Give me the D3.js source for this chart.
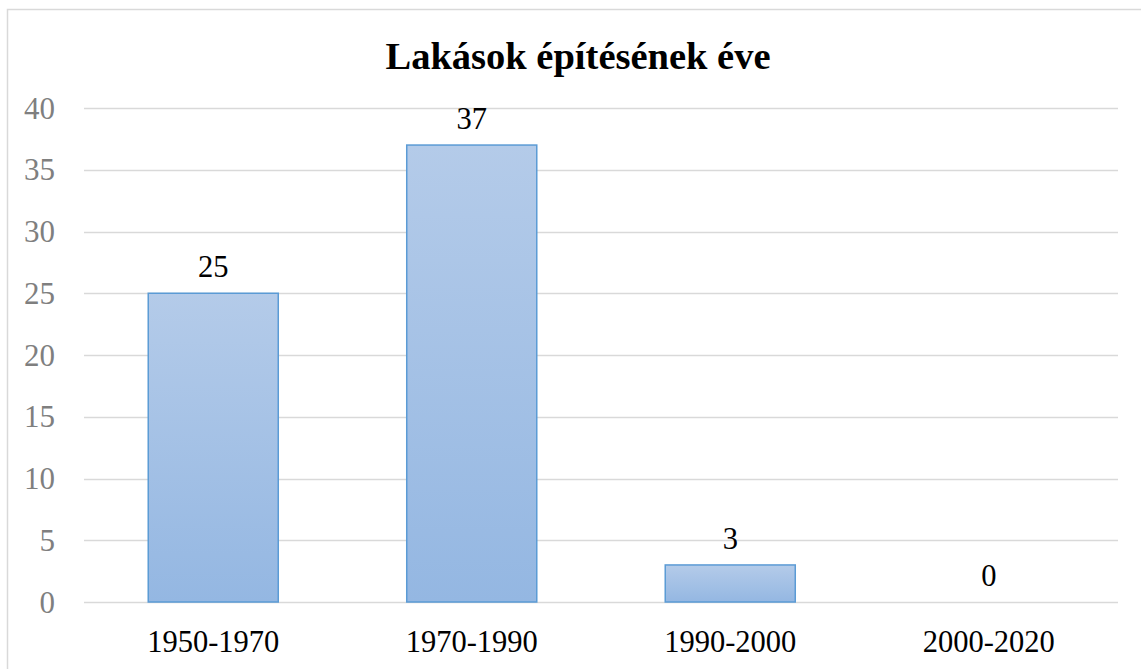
<!DOCTYPE html>
<html>
<head>
<meta charset="utf-8">
<script src="https://cdn.jsdelivr.net/npm/d3@7"></script>
<style>
  body { margin: 0; background: #fff; }
  svg { display: block; font-family: "Liberation Serif", "Times New Roman", serif; }
</style>
</head>
<body>
<svg></svg>
<script>
const width = 1141;
const height = 669;

const title = "Lakások építésének éve";
const categories = ["1950-1970", "1970-1990", "1990-2000", "2000-2020"];
const values = [25, 37, 3, 0];
const yTicks = [0, 5, 10, 15, 20, 25, 30, 35, 40];

const serif = "Liberation Serif, Times New Roman, serif";

let svg = d3.select("svg").attr("width", width).attr("height", height);

// chart frame
svg.append("rect").attr("x", 7.5).attr("y", 9.5).attr("width", width + 10).attr("height", height + 10)
    .attr("fill", "#fff").attr("stroke", "#d9d9d9").attr("stroke-width", 1.5);

const margin = { left: 84, right: 23, top: 108, bottom: 67 };
const x = d3.scaleBand().domain(categories).range([margin.left, width - margin.right]).paddingInner(0.497).paddingOuter(0.2485);
const y = d3.scaleLinear().domain([0, 40]).range([height - margin.bottom, margin.top]);

let defs = svg.append("defs");
let grad = defs.append("linearGradient").attr("id", "barGrad").attr("x1", 0).attr("y1", 0).attr("x2", 0).attr("y2", 1);
grad.append("stop").attr("offset", "0%").attr("stop-color", "#b4cbe9");
grad.append("stop").attr("offset", "100%").attr("stop-color", "#94b7e2");

// gridlines
svg.append("g").selectAll("line").data(yTicks).join("line")
    .attr("x1", margin.left).attr("x2", width - margin.right)
    .attr("y1", d => Math.round(y(d)) + 0.5).attr("y2", d => Math.round(y(d)) + 0.5)
    .attr("stroke", "#d9d9d9").attr("stroke-width", 1.5);

// y axis labels
let yAxis = svg.append("g").attr("transform", `translate(${margin.left - 29},0)`)
    .call(d3.axisLeft(y).tickValues(yTicks).tickSize(0).tickPadding(0));
yAxis.select(".domain").remove();
yAxis.selectAll("text").style("font-size", "31px").style("fill", "#7f7f7f")
    .style("font-family", serif).attr("dy", "0.33em");

// bars
svg.append("g").selectAll("rect").data(values).join("rect")
    .attr("x", (d, i) => x(categories[i]))
    .attr("y", d => y(d))
    .attr("width", x.bandwidth())
    .attr("height", d => y(0) - y(d))
    .attr("fill", "url(#barGrad)")
    .attr("stroke", d => d > 0 ? "#5b9bd5" : "none")
    .attr("stroke-width", 1.5);

// data labels
svg.append("g").selectAll("text").data(values).join("text")
    .attr("x", (d, i) => x(categories[i]) + x.bandwidth() / 2)
    .attr("y", d => y(d) - 16)
    .attr("text-anchor", "middle")
    .style("font-size", "30.5px").style("fill", "#000").style("font-family", serif)
    .text(d => d);

// x axis labels
let xAxis = svg.append("g").attr("transform", `translate(0,${y(0)})`)
    .call(d3.axisBottom(x).tickSize(0).tickPadding(0));
xAxis.select(".domain").remove();
xAxis.selectAll("text").attr("dy", null).attr("y", 50)
    .style("font-size", "30.5px").style("fill", "#000").style("font-family", serif);

// title
svg.append("text").attr("x", 578).attr("y", 69).attr("text-anchor", "middle")
    .style("font-size", "38.5px").style("font-weight", "bold").style("fill", "#000").style("font-family", serif)
    .text(title);
</script>
</body>
</html>
